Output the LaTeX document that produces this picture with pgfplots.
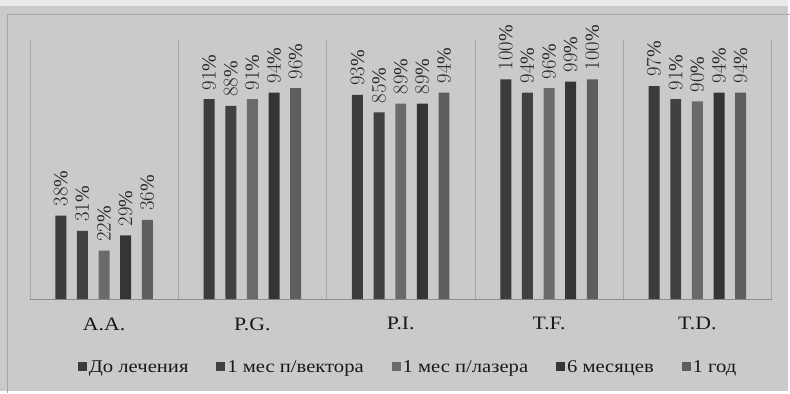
\documentclass[border=0pt]{standalone}
\usepackage{fontspec}
\setmainfont[FakeStretch=1.15]{Liberation Serif}
\newfontfamily\lblfont{Liberation Serif}
\usepackage{pgfplots}
\usepackage{pgfplotstable}
\pgfplotsset{compat=1.18}
\definecolor{bg}{HTML}{CACACA}
\definecolor{sA}{HTML}{3C3C3C}
\definecolor{sB}{HTML}{414141}
\definecolor{sC}{HTML}{6A6A6A}
\definecolor{sD}{HTML}{353535}
\definecolor{sE}{HTML}{5E5E5E}
\pgfplotstableread{
x s1 s2 s3 s4 s5
0 38 31 22 29 36
1 91 88 91 94 96
2 93 85 89 89 94
3 100 94 96 99 100
4 97 91 90 94 94
}\datatab
\begin{document}
\begin{tikzpicture}[x=1pt,y=1pt]
\fill[bg] (0,0) rectangle (790,392);
\fill[bg!40!white] (0,386) rectangle (790,392);
\draw[black!35, line width=1pt] (8,-2) -- (8,377) -- (792,377);
\useasboundingbox (0,0) rectangle (790,392);
\begin{axis}[
  at={(30pt,92pt)}, anchor=south west,
  scale only axis, width=744pt, height=260pt,
  xmin=-0.5, xmax=4.5, ymin=0, ymax=118,
  ybar=10.7pt, bar width=11pt,
  axis y line=none,
  axis x line*=bottom,
  x axis line style={-, black!45, line width=0.8pt},
  xtick={0,1,2,3,4},
  xticklabels={A.A., P.G., P.I., T.F., T.D.},
  major tick length=0pt,
  minor xtick={-0.5,0.5,1.5,2.5,3.5,4.5},
  minor tick length=0pt,
  xminorgrids,
  minor grid style={black!35, line width=0.6pt},
  xticklabel style={font=\fontsize{19}{19}\selectfont, yshift=-15pt, black!90},
  nodes near coords={\pgfmathprintnumber{\pgfplotspointmeta}\%},
  every node near coord/.append style={rotate=90, anchor=west, font=\lblfont\fontsize{20}{20}\selectfont, black!85, inner xsep=9pt, inner ysep=2pt},
  legend columns=5,
  legend style={at={(0.51,-0.262)}, anchor=center, draw=none, fill=none,
    font=\fontsize{18}{18}\selectfont, text=black!90, /tikz/every even column/.append style={column sep=26pt}},
  legend image code/.code={\fill[#1] (0pt,-4.5pt) rectangle (9pt,4.5pt);},
]
\addplot[fill=sA, draw=none] table[x=x, y=s1] {\datatab};
\addplot[fill=sB, draw=none] table[x=x, y=s2] {\datatab};
\addplot[fill=sC, draw=none] table[x=x, y=s3] {\datatab};
\addplot[fill=sD, draw=none] table[x=x, y=s4] {\datatab};
\addplot[fill=sE, draw=none] table[x=x, y=s5] {\datatab};
\legend{До лечения, 1 мес п/вектора, 1 мес п/лазера, 6 месяцев, 1 год}
\end{axis}
\end{tikzpicture}
\end{document}
